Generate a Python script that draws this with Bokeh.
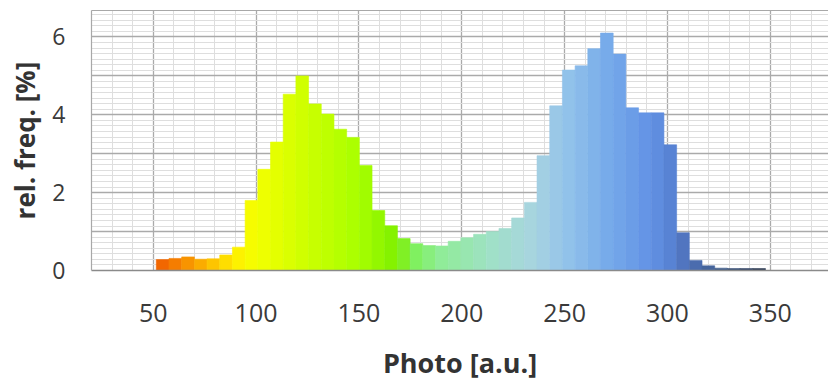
from bokeh.plotting import figure
from bokeh.models import Range1d, FixedTicker, SingleIntervalTicker, LinearAxis, ColumnDataSource
from bokeh.embed import file_html
from bokeh.resources import INLINE

# ---- data ----
photo_start = 51.5          # left edge of the first bin [a.u.]
bin_width = 6.17            # bin width [a.u.]
rel_freq = [0.28, 0.31, 0.35, 0.29, 0.30, 0.40, 0.60, 1.80, 2.60, 3.30,
            4.53, 5.00, 4.28, 4.02, 3.63, 3.42, 2.70, 1.54, 1.15, 0.82,
            0.69, 0.64, 0.63, 0.75, 0.84, 0.93, 1.00, 1.08, 1.35, 1.75,
            2.95, 4.23, 5.15, 5.26, 5.70, 6.10, 5.56, 4.18, 4.05, 4.05,
            3.23, 0.97, 0.26, 0.12, 0.06, 0.05, 0.05, 0.05]
x_ticks = [50, 100, 150, 200, 250, 300, 350]
y_ticks = [0, 2, 4, 6]

# colour gradient stops along the Photo axis
stop_x = [51, 60, 70, 80, 90, 100, 125, 150, 168, 178, 190, 215, 235, 250, 270, 290, 300, 310, 325, 348]
stop_c = ["#f05a00", "#f57a00", "#fa9f00", "#fdc800", "#fff000", "#f4ff00", "#ccff00", "#a8ff00",
          "#80f000", "#80f060", "#90ec98", "#a0e0c8", "#a8d4e0", "#94c4ea", "#78acea", "#6494e6",
          "#5a86d8", "#4e70b8", "#42608e", "#303a50"]


def hex2rgb(h):
    return tuple(int(h[i:i + 2], 16) for i in (1, 3, 5))


def colour_at(x):
    if x <= stop_x[0]:
        return stop_c[0]
    if x >= stop_x[-1]:
        return stop_c[-1]
    for k in range(len(stop_x) - 1):
        if stop_x[k] <= x <= stop_x[k + 1]:
            t = (x - stop_x[k]) / (stop_x[k + 1] - stop_x[k])
            a, b = hex2rgb(stop_c[k]), hex2rgb(stop_c[k + 1])
            r = [round(a[j] + (b[j] - a[j]) * t) for j in range(3)]
            return "#%02x%02x%02x" % tuple(r)


lefts = [photo_start + i * bin_width for i in range(len(rel_freq))]
rights = [l + bin_width for l in lefts]
colors = [colour_at(l + bin_width / 2) for l in lefts]
src = ColumnDataSource(dict(left=lefts, right=rights, top=rel_freq, color=colors))

p = figure(width=828, height=385, x_range=Range1d(20, 378.3), y_range=Range1d(0, 6.68),
           output_backend="svg", toolbar_location=None,
           min_border_left=91, min_border_right=0, min_border_top=10, min_border_bottom=115)
p.outline_line_color = None
p.background_fill_color = "white"
p.border_fill_color = "white"

p.quad(left="left", right="right", bottom=0, top="top", fill_color="color",
       line_color="color", line_width=0.6, source=src)

# grids
p.xgrid.ticker = SingleIntervalTicker(interval=50, num_minor_ticks=5)
p.ygrid.ticker = SingleIntervalTicker(interval=1, num_minor_ticks=7)
for g in (p.xgrid, p.ygrid):
    g.grid_line_color = "#aaaaaa"
    g.grid_line_width = 1.3
    g.minor_grid_line_color = "#dedede"
    g.minor_grid_line_width = 1

# x axis
xa = p.xaxis[0]
xa.ticker = FixedTicker(ticks=x_ticks)
xa.axis_line_color = "#8a8a8a"
xa.axis_line_width = 1.5
xa.major_tick_line_color = None
xa.minor_tick_line_color = None
xa.major_tick_out = 0
xa.major_tick_in = 0
xa.major_label_standoff = 33
xa.major_label_text_font = "Open Sans"
xa.major_label_text_font_size = "25px"
xa.major_label_text_color = "#3a3a3a"
xa.axis_label = "Photo [a.u.]"
xa.axis_label_text_font = "Open Sans"
xa.axis_label_text_font_style = "bold"
xa.axis_label_text_font_size = "27px"
xa.axis_label_text_color = "#333333"
xa.axis_label_standoff = 19

# y axis
ya = p.yaxis[0]
ya.ticker = FixedTicker(ticks=y_ticks)
ya.axis_line_color = "#a8a8a8"
ya.axis_line_width = 1.2
ya.major_tick_line_color = None
ya.minor_tick_line_color = None
ya.major_tick_out = 0
ya.major_tick_in = 0
ya.major_label_standoff = 26
ya.major_label_text_font = "Open Sans"
ya.major_label_text_font_size = "23px"
ya.major_label_text_color = "#3a3a3a"
ya.axis_label = "rel. freq. [%]"
ya.axis_label_text_font = "Open Sans"
ya.axis_label_text_font_style = "bold"
ya.axis_label_text_font_size = "26px"
ya.axis_label_text_color = "#333333"
ya.axis_label_standoff = 6

# top border line
top_axis = LinearAxis(ticker=FixedTicker(ticks=[]), axis_line_color="#a8a8a8", axis_line_width=1.2,
                      major_tick_line_color=None, minor_tick_line_color=None,
                      major_label_text_font_size="0px", major_label_standoff=0,
                      major_tick_out=0, major_tick_in=0)
p.add_layout(top_axis, "above")

open("out.html", "w").write(file_html(p, INLINE))
